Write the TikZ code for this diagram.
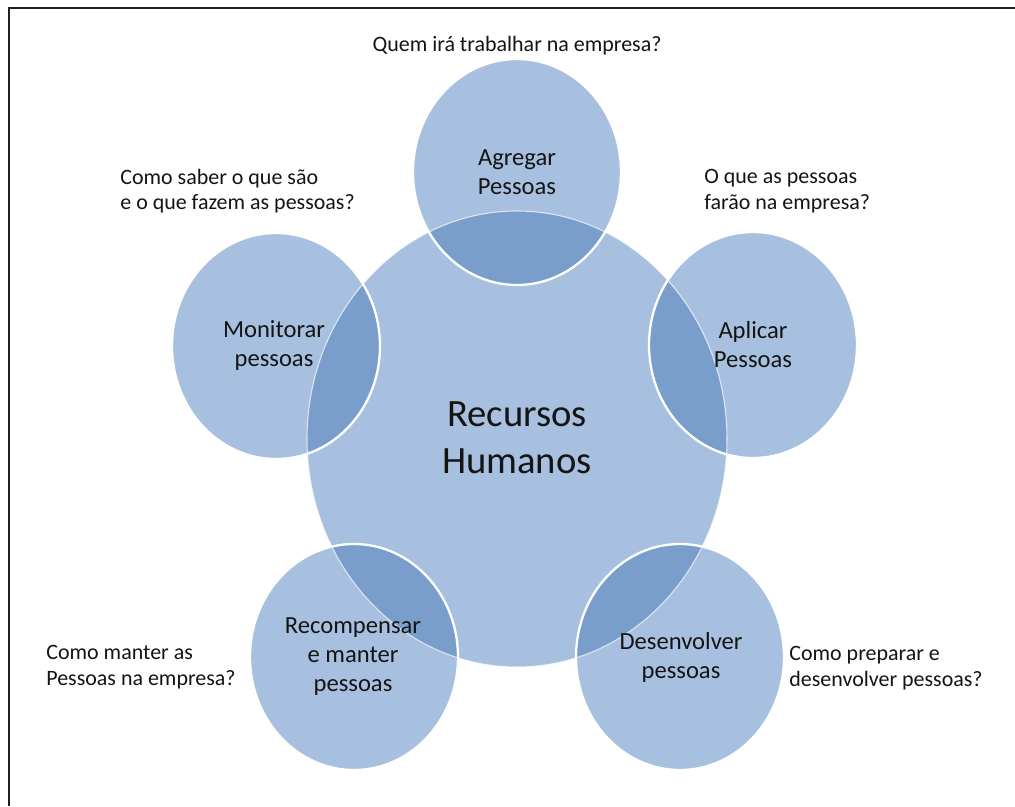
\documentclass[tikz,border=0pt]{standalone}
\usepackage{fontspec}
\setmainfont{Carlito}
\definecolor{petalblue}{HTML}{A8C0DF}
\definecolor{overlapblue}{HTML}{7A9ECB}
\definecolor{inkgray}{HTML}{141414}
\begin{document}
\begin{tikzpicture}
  [x=0.02cm,y=-0.02cm,
   petal/.style={fill=petalblue},
   overlap/.style={fill=overlapblue},
   rim/.style={draw=white,line width=1.3pt},
   label/.style={align=center,inner sep=0pt,text=inkgray,font=\fontsize{14}{16.5}\selectfont},
   question/.style={align=left,inner sep=0pt,anchor=west,text=inkgray,font=\fontsize{12.5}{14.5}\selectfont}]
    \useasboundingbox (0,0) rectangle (1015,806);
    \draw[line width=1.4pt,black!88] (9,806) -- (9,8) -- (1015,8);

    \coordinate (rh)   at (517,439);
    \coordinate (agr)  at (517,172);
    \coordinate (apl)  at (753,345);
    \coordinate (des)  at (680,657);
    \coordinate (rec)  at (354,657);
    \coordinate (mon)  at (276,346);

    \fill[petal] (rh) ellipse [x radius=210,y radius=228];
    \foreach \p in {agr,apl,des,rec,mon}
      \fill[petal] (\p) ellipse [x radius=104,y radius=113];
    \foreach \p in {agr,apl,des,rec,mon}
    {
      \begin{scope}
        \clip (rh) ellipse [x radius=210,y radius=228];
        \fill[overlap] (\p) ellipse [x radius=104,y radius=113];
      \end{scope}
    }
    \draw[white,line width=0.6pt,opacity=0.7] (rh) ellipse [x radius=210,y radius=228];
    \foreach \p in {agr,apl,des,rec,mon}
      \draw[rim] (\p) ellipse [x radius=104,y radius=113];

    \node (rht)  [label,font=\fontsize{22}{27}\selectfont] at (517,438) {Recursos\\Humanos};
    \node (agrt) [label] at (517,172) {Agregar\\Pessoas};
    \node (aplt) [label] at (753,345) {Aplicar\\Pessoas};
    \node (dest) [label] at (681,657) {Desenvolver\\pessoas};
    \node (rect) [label] at (353,657) {Recompensar\\e manter\\pessoas};
    \node (mont) [label] at (274,346) {Monitorar\\pessoas};

    \node (agrq) [question,anchor=center] at (517,46) {Quem irá trabalhar na empresa?};
    \node (aplq) [question] at (704,191) {O que as pessoas\\farão na empresa?};
    \node (desq) [question] at (789,668) {Como preparar e\\desenvolver pessoas?};
    \node (recq) [question] at (46,667) {Como manter as\\Pessoas na empresa?};
    \node (monq) [question] at (120,191) {Como saber o que são\\e o que fazem as pessoas?};
\end{tikzpicture}
\end{document}
